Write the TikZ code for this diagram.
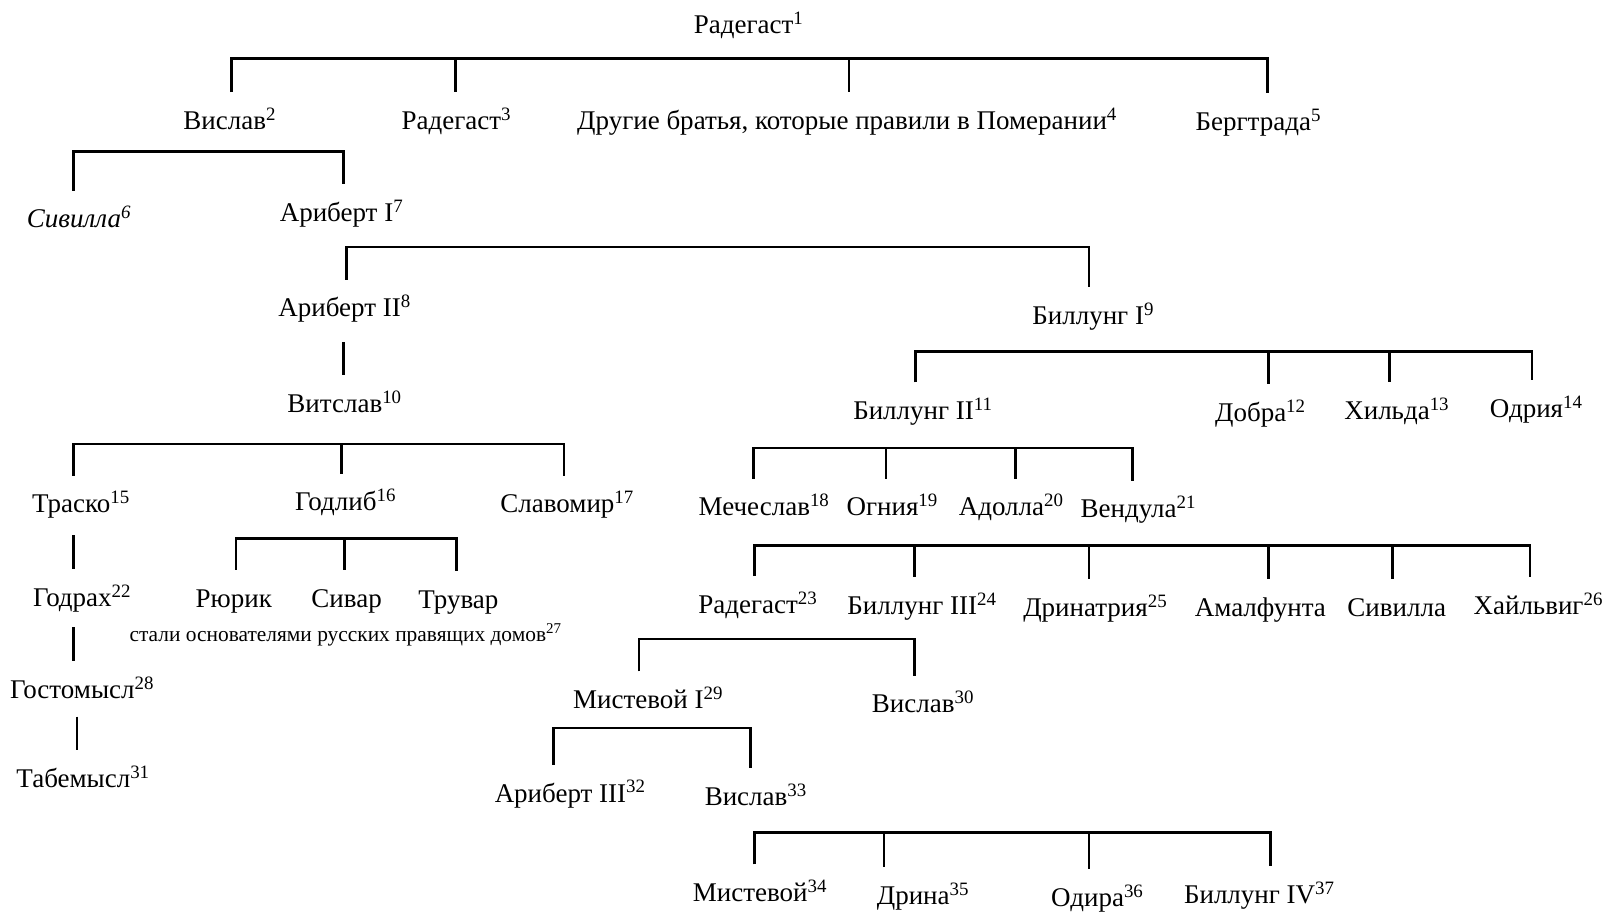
\documentclass[tikz,border=0pt]{standalone}
\usepackage{fontspec}
\setmainfont{Liberation Serif}
\newcommand{\fnm}[1]{\textsuperscript{#1}}
\begin{document}
\begin{tikzpicture}[x=1.0255pt,y=-1.0255pt,
  nm/.style={anchor=mid,yshift=-7pt,font=\fontsize{27}{30}\selectfont,inner xsep=0pt,inner ysep=12pt,text height=25pt,text depth=6pt},
  capt/.style={anchor=mid,yshift=-7pt,font=\fontsize{21.4}{23}\selectfont,inner sep=0pt},
  ln/.style={line width=2.7pt}]
\useasboundingbox[fill=white] (0,0) rectangle (1568,891);

% ---------- nodes ----------
\node[nm] (r1)  at (730,24)  {Радегаст\fnm{1}};
\node[nm] (v2)  at (224,117) {Вислав\fnm{2}};
\node[nm] (r3)  at (445,117) {Радегаст\fnm{3}};
\node[nm] (db4) at (826,117) {Другие братья, которые правили в Померании\fnm{4}};
\node[nm] (b5)  at (1227,118) {Бергтрада\fnm{5}};
\node[nm] (s6)  at (77,213)  {\itshape Сивилла\fnm{6}};
\node[nm] (a7)  at (333,207) {Ариберт I\fnm{7}};
\node[nm] (a8)  at (336,300) {Ариберт II\fnm{8}};
\node[nm] (b9)  at (1066,307) {Биллунг I\fnm{9}};
\node[nm] (v10) at (336,393) {Витслав\fnm{10}};
\node[nm] (b11) at (900,400) {Биллунг II\fnm{11}};
\node[nm] (d12) at (1229,402) {Добра\fnm{12}};
\node[nm] (h13) at (1362,400) {Хильда\fnm{13}};
\node[nm] (o14) at (1498,398) {Одрия\fnm{14}};
\node[nm] (t15) at (79,491)  {Траско\fnm{15}};
\node[nm] (g16) at (337,489) {Годлиб\fnm{16}};
\node[nm] (s17) at (553,491) {Славомир\fnm{17}};
\node[nm] (m18) at (745,494) {Мечеслав\fnm{18}};
\node[nm] (o19) at (870,494) {Огния\fnm{19}};
\node[nm] (a20) at (986,494) {Адолла\fnm{20}};
\node[nm] (v21) at (1110,496) {Вендула\fnm{21}};
\node[nm] (g22) at (80,582)  {Годрах\fnm{22}};
\node[nm] (ru)  at (228,583) {Рюрик};
\node[nm] (si)  at (338,583) {Сивар};
\node[nm] (tr)  at (447,584) {Трувар};
\node[capt] (cap) at (337,616) {стали основателями русских правящих домов\fnm{27}};
\node[nm] (r23) at (739,589) {Радегаст\fnm{23}};
\node[nm] (b24) at (899,590) {Биллунг III\fnm{24}};
\node[nm] (d25) at (1068,592) {Дринатрия\fnm{25}};
\node[nm] (am)  at (1229,592) {Амалфунта};
\node[nm] (sv)  at (1362,592) {Сивилла};
\node[nm] (h26) at (1500,590) {Хайльвиг\fnm{26}};
\node[nm] (g28) at (80,672)  {Гостомысл\fnm{28}};
\node[nm] (m29) at (632,682) {Мистевой I\fnm{29}};
\node[nm] (v30) at (900,686) {Вислав\fnm{30}};
\node[nm] (t31) at (81,759)  {Табемысл\fnm{31}};
\node[nm] (a32) at (556,773) {Ариберт III\fnm{32}};
\node[nm] (v33) at (737,776) {Вислав\fnm{33}};
\node[nm] (m34) at (741,870) {Мистевой\fnm{34}};
\node[nm] (d35) at (900,873) {Дрина\fnm{35}};
\node[nm] (o36) at (1070,875) {Одира\fnm{36}};
\node[nm] (b37) at (1228,872) {Биллунг IV\fnm{37}};

% ---------- bracket 1 ----------
\coordinate (k1a) at (226,57); \coordinate (k1b) at (444,57);
\coordinate (k1c) at (828,57); \coordinate (k1d) at (1236,57);
\draw[ln] (k1a |- v2.north) -- (k1a) -- (k1d) -- (k1d |- b5.north);
\draw[ln] (k1b) -- (k1b |- r3.north);
\draw[ln] (k1c) -- (k1c |- db4.north);
% ---------- bracket 2 ----------
\coordinate (k2a) at (72,148); \coordinate (k2b) at (335,148);
\draw[ln] (k2a |- s6.north) -- (k2a) -- (k2b) -- (k2b |- a7.north);
% ---------- bracket 3 ----------
\coordinate (k3a) at (338,241); \coordinate (k3b) at (1062,241);
\draw[ln] (k3a |- a8.north) -- (k3a) -- (k3b) -- (k3b |- b9.north);
% ---------- bracket 4 ----------
\coordinate (k4a) at (893,343); \coordinate (k4b) at (1237,343);
\coordinate (k4c) at (1355,343); \coordinate (k4d) at (1494,343);
\draw[ln] (k4a |- b11.north) -- (k4a) -- (k4d) -- (k4d |- o14.north);
\draw[ln] (k4b) -- (k4b |- d12.north);
\draw[ln] (k4c) -- (k4c |- h13.north);
% ---------- bracket 5 ----------
\coordinate (k5a) at (72,433); \coordinate (k5b) at (333,433); \coordinate (k5c) at (550,433);
\draw[ln] (k5a |- t15.north) -- (k5a) -- (k5c) -- (k5c |- s17.north);
\draw[ln] (k5b) -- (k5b |- g16.north);
% ---------- bracket 6 ----------
\coordinate (k6a) at (735,437); \coordinate (k6b) at (864,437);
\coordinate (k6c) at (990,437); \coordinate (k6d) at (1104,437);
\draw[ln] (k6a |- m18.north) -- (k6a) -- (k6d) -- (k6d |- v21.north);
\draw[ln] (k6b) -- (k6b |- o19.north);
\draw[ln] (k6c) -- (k6c |- a20.north);
% ---------- bracket 7 ----------
\coordinate (k7a) at (230,525); \coordinate (k7b) at (336,525); \coordinate (k7c) at (445,525);
\draw[ln] (k7a |- ru.north) -- (k7a) -- (k7c) -- (k7c |- tr.north);
\draw[ln] (k7b) -- (k7b |- si.north);
% ---------- bracket 8 ----------
\coordinate (k8a) at (736,532); \coordinate (k8b) at (892,532); \coordinate (k8c) at (1062,532);
\coordinate (k8d) at (1237,532); \coordinate (k8e) at (1358,532); \coordinate (k8f) at (1492,532);
\draw[ln] (k8a |- r23.north) -- (k8a) -- (k8f) -- (k8f |- h26.north);
\draw[ln] (k8b) -- (k8b |- b24.north);
\draw[ln] (k8c) -- (k8c |- d25.north);
\draw[ln] (k8d) -- (k8d |- am.north);
\draw[ln] (k8e) -- (k8e |- sv.north);
% ---------- bracket 9 ----------
\coordinate (k9a) at (623,623); \coordinate (k9b) at (892,623);
\draw[ln] (k9a |- m29.north) -- (k9a) -- (k9b) -- (k9b |- v30.north);
% ---------- bracket 10 ----------
\coordinate (k10a) at (540,710); \coordinate (k10b) at (732,710);
\draw[ln] (k10a |- a32.north) -- (k10a) -- (k10b) -- (k10b |- v33.north);
% ---------- bracket 11 ----------
\coordinate (k11a) at (736,812); \coordinate (k11b) at (862,812);
\coordinate (k11c) at (1062,812); \coordinate (k11d) at (1239,812);
\draw[ln] (k11a |- m34.north) -- (k11a) -- (k11d) -- (k11d |- b37.north);
\draw[ln] (k11b) -- (k11b |- d35.north);
\draw[ln] (k11c) -- (k11c |- o36.north);

% ---------- single-line descents ----------
\coordinate (x1) at (335,0);
\coordinate (x2) at (72,0);
\coordinate (x3) at (75,0);
\draw[ln,shorten <=7pt] (x1 |- a8.south) -- (x1 |- v10.north);
\draw[ln,shorten <=4pt] (x2 |- t15.south) -- (x2 |- g22.north);
\draw[ln,shorten <=3pt] (x2 |- g22.south) -- (x2 |- g28.north);
\draw[ln] (x3 |- g28.south) -- (x3 |- t31.north);
\end{tikzpicture}
\end{document}
